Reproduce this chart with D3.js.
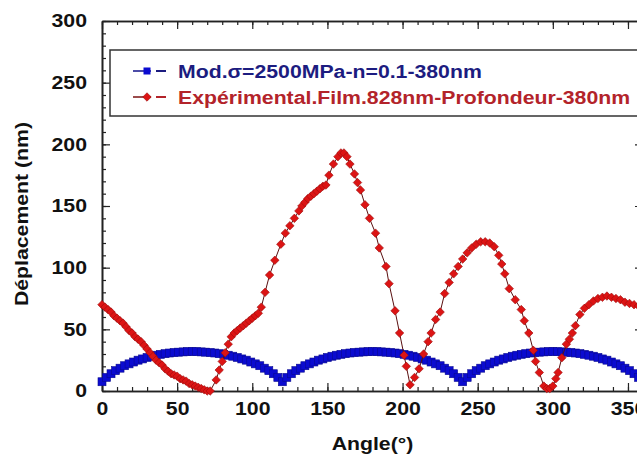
<!DOCTYPE html>
<html><head><meta charset="utf-8">
<script src="https://cdn.jsdelivr.net/npm/d3@7"></script>
<style>
html,body{margin:0;padding:0;background:#fff;overflow:hidden}
text{font-family:"Liberation Sans",Arial,sans-serif;font-weight:bold}
</style></head>
<body><svg id="c" width="637" height="455"></svg>
<script>
// ---- data ----
const xTicks = [0, 50, 100, 150, 200, 250, 300, 350];
const yTicks = [0, 50, 100, 150, 200, 250, 300];
const seriesNames = ["Mod.σ=2500MPa-n=0.1-380nm", "Expérimental.Film.828nm-Profondeur-380nm"];
const xLabel = "Angle(°)";
const yLabel = "Déplacement (nm)";

const blueAngles = [0,3,6,9,12,15,18,21,24,27,30,33,36,39,42,45,48,51,54,57,60,63,66,69,72,75,78,81,84,87,90,93,96,99,102,105,108,111,114,117,
  120,123,126,129,132,135,138,141,144,147,150,153,156,159,162,165,168,171,174,177,180,183,186,189,192,195,198,201,204,207,210,213,216,219,222,225,228,231,234,237,
  240,243,246,249,252,255,258,261,264,267,270,273,276,279,282,285,288,291,294,297,300,303,306,309,312,315,318,321,324,327,330,333,336,339,342,345,348,351,354,357,360];
const blueValues = [7.5,11,14,16.5,18.5,20.5,22,23.5,25,26,27.2,28.2,29,29.7,30.3,30.8,31.2,31.5,31.7,31.9,32,31.9,31.7,31.5,31.2,30.8,30.3,29.7,29,28.2,27.2,26,25,23.5,22,20.5,18.5,16.5,14,11,
  7.5,11,14,16.5,18.5,20.5,22,23.5,25,26,27.2,28.2,29,29.7,30.3,30.8,31.2,31.5,31.7,31.9,32,31.9,31.7,31.5,31.2,30.8,30.3,29.7,29,28.2,27.2,26,25,23.5,22,20.5,18.5,16.5,14,11,
  7.5,11,14,16.5,18.5,20.5,22,23.5,25,26,27.2,28.2,29,29.7,30.3,30.8,31.2,31.5,31.7,31.9,32,31.9,31.7,31.5,31.2,30.8,30.3,29.7,29,28.2,27.2,26,25,23.5,22,20.5,18.5,16.5,14,11,7.5];

const redAngles = [0,2,4,6,8,10,12,14,16,18,20,22,24,26,28,30,32,34,36,38,40,42,44,46,48,50,52,54,56,58,60,62,64,66,68,70,72,
  76,78,80,82,84,86,88,90,92,94,96,98,100,102,104,106,108.5,111.5,115,119,122,125,128,131,133,135,137,139,141,143,145,147,149,151,154,157,159,161,163,165,168,170,172,175,178,182,184.5,189,191,195,198,201,202.5,
  205,208,211,214,217,219,222,225,228,231,234,237,240,243,246,249,252,255,258,261,264,266,268,271,275,279,281,284,287,288.5,291,294,296,298,300,302,303.5,306,309,311,313,315,318,321,324,327,330,333,336,339,342,345,348,351,354,357,360];
const redValues = [70,68,66,64,61,59,57,55,52,49,47,44,42,40,37,34,31,28,25,23,21,18,16,14,13,12,10,9,8,6,5,4,3,2,1,0,0,
  9,17,24,31,38,44,47,49,51,53,55,57,59,61,63,68,80,94,106,119,128,134,140,146,150,153,156,158,160,162,164,166,167,175,184,190,193,193,190,184,176,169,163,151,140,128,116,101,87,65,47,29,20,
  5,11,18,30,40,47,58,64,79,88,95,101,107,112,116,119,121,121,120,117,110,103,95,83,74,66,57,47,33,24,15,4,2,2,4,10,15,27,38,42,47,53,62,67,70,73,75,76,77,76,75,74,72,71,70,69,68];

// ---- drawing ----
const svg = d3.select("#c");
const X0 = 102, X1 = 643, Y0 = 391, Y1 = 21;
const x = d3.scaleLinear().domain([0, 360]).range([X0, X1]);
const y = d3.scaleLinear().domain([0, 300]).range([Y0, Y1]);
const STRETCH = 1.18;
function stretch(sel){
  sel.each(function(){ const L = this.getComputedTextLength(); this.setAttribute("textLength", (L*STRETCH).toFixed(1)); this.setAttribute("lengthAdjust","spacingAndGlyphs"); });
}
const minor = d3.range(0, 361, 10);
const minorY = d3.range(0, 301, 10);

function styleAxis(g){
  g.selectAll("path.domain").attr("stroke","#222").attr("stroke-width",1.6);
  g.selectAll(".tick line").attr("stroke","#222").attr("stroke-width",1.2);
  g.selectAll("text").attr("fill","#111").style("font-size","18px").style("font-family",'"Liberation Sans",Arial,sans-serif').style("font-weight","bold");
}
// minor ticks
svg.append("g").attr("transform",`translate(0,${Y0})`).call(d3.axisBottom(x).tickValues(minor).tickSizeInner(-4).tickSizeOuter(0).tickFormat("")).call(styleAxis);
svg.append("g").attr("transform",`translate(0,${Y1})`).call(d3.axisTop(x).tickValues(minor).tickSizeInner(-4).tickSizeOuter(0).tickFormat("")).call(styleAxis);
svg.append("g").attr("transform",`translate(${X0},0)`).call(d3.axisLeft(y).tickValues(minorY).tickSizeInner(-4).tickSizeOuter(0).tickFormat("")).call(styleAxis);
svg.append("g").attr("transform",`translate(${X1},0)`).call(d3.axisRight(y).tickValues(minorY).tickSizeInner(-4).tickSizeOuter(0).tickFormat("")).call(styleAxis);
// major ticks
const gx = svg.append("g").attr("transform",`translate(0,${Y0})`).call(d3.axisBottom(x).tickValues(xTicks).tickSizeInner(-8).tickSizeOuter(0).tickPadding(11).tickFormat(d3.format("d"))).call(styleAxis);
svg.append("g").attr("transform",`translate(0,${Y1})`).call(d3.axisTop(x).tickValues(xTicks).tickSizeInner(-8).tickSizeOuter(0).tickFormat("")).call(styleAxis);
const gy = svg.append("g").attr("transform",`translate(${X0},0)`).call(d3.axisLeft(y).tickValues(yTicks).tickSizeInner(-8).tickSizeOuter(0).tickPadding(15).tickFormat(d3.format("d"))).call(styleAxis);
svg.append("g").attr("transform",`translate(${X1},0)`).call(d3.axisRight(y).tickValues(yTicks).tickSizeInner(-8).tickSizeOuter(0).tickFormat("")).call(styleAxis);
gx.selectAll("text").call(stretch);
gy.selectAll("text").call(stretch);

// blue series
const blue = blueAngles.map((a,i)=>({a, v: blueValues[i]}));
const red = redAngles.map((a,i)=>({a, v: redValues[i]}));
const line = d3.line().x(d=>x(d.a)).y(d=>y(d.v));
svg.append("path").datum(blue).attr("d",line).attr("fill","none").attr("stroke","#10108a").attr("stroke-width",1);
svg.append("g").selectAll("rect").data(blue).join("rect")
  .attr("x",d=>x(d.a)-4).attr("y",d=>y(d.v)-4).attr("width",8).attr("height",8)
  .attr("fill","#0b0bd0").attr("stroke","#0a0a90").attr("stroke-width",0.6);
// red series
svg.append("path").datum(red).attr("d",line).attr("fill","none").attr("stroke","#5a1010").attr("stroke-width",1);
const diamond = d3.symbol().type(d3.symbolDiamond2).size(46);
svg.append("g").selectAll("path").data(red).join("path")
  .attr("transform",d=>`translate(${x(d.a)},${y(d.v)})`).attr("d",diamond)
  .attr("fill","#dc1414").attr("stroke","#9a0c0c").attr("stroke-width",0.6);

// legend
const lg = svg.append("g");
lg.append("rect").attr("x",110).attr("y",50).attr("width",540).attr("height",66).attr("fill","#fff").attr("stroke","#333").attr("stroke-width",1.5);
const legendColors = ["#1c1c80","#b3232a"];
const lineColors = ["#10108a","#7a1010"];
[71, 97].forEach((yy,i)=>{
  lg.append("line").attr("x1",133).attr("x2",151).attr("y1",yy).attr("y2",yy).attr("stroke",lineColors[i]).attr("stroke-width",1.5);
  if(i===0) lg.append("rect").attr("x",143.5).attr("y",yy-3.5).attr("width",7).attr("height",7).attr("fill","#0b0bd0");
  else lg.append("path").attr("transform",`translate(147,${yy})`).attr("d",diamond).attr("fill","#dc1414").attr("stroke","#9a0c0c").attr("stroke-width",0.6);
  lg.append("line").attr("x1",156).attr("x2",166).attr("y1",yy).attr("y2",yy).attr("stroke",legendColors[i]).attr("stroke-width",2);
  lg.append("text").attr("x",178).attr("y",yy+6.5).attr("fill",legendColors[i]).style("font-size","18px").text(seriesNames[i]).call(stretch);
});

// axis titles
svg.append("text").attr("x",(X0+X1)/2).attr("y",450).attr("text-anchor","middle").attr("fill","#111").style("font-size","18px").text(xLabel).call(stretch);
svg.append("text").attr("transform","translate(28,214) rotate(-90)").attr("text-anchor","middle").attr("fill","#111").style("font-size","18px").text(yLabel).call(stretch);
</script></body></html>
